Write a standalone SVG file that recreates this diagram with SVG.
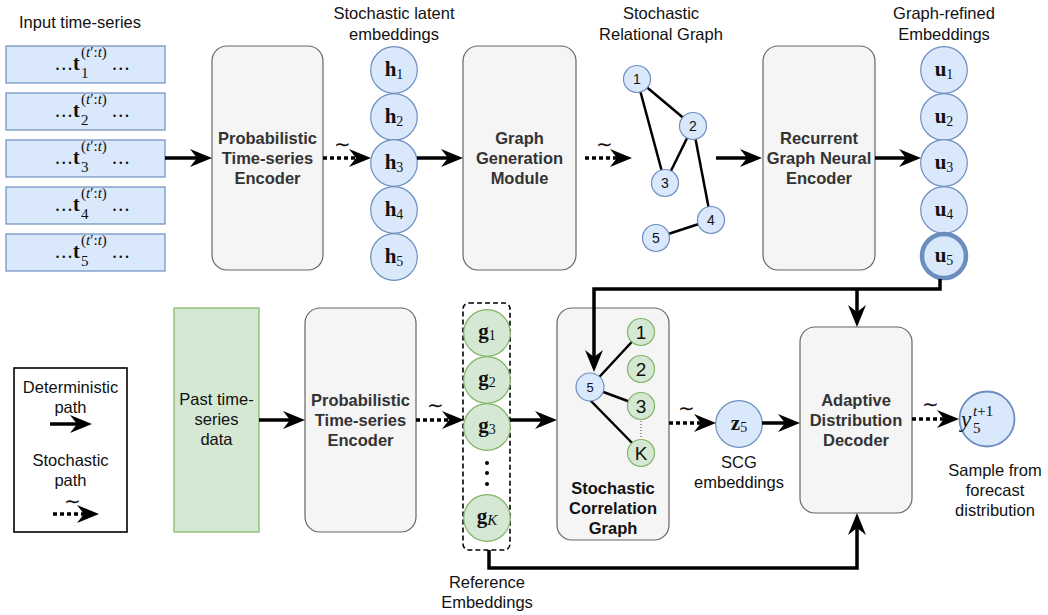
<svg xmlns="http://www.w3.org/2000/svg" width="1048" height="615" viewBox="0 0 1048 615">
  <style>
    .lbl { font-family: "Liberation Sans", Arial, sans-serif; font-size: 16.5px; fill: #111; text-anchor: middle; }
    .blk { font-family: "Liberation Sans", Arial, sans-serif; font-size: 16.5px; font-weight: bold; fill: #333; text-anchor: middle; }
    .num { font-family: "Liberation Sans", Arial, sans-serif; fill: #111; text-anchor: middle; }
    .math { font-family: "Liberation Serif", "Times New Roman", serif; fill: #111; }
    .mid { text-anchor: middle; }
    .blue { fill: #dae8fc; stroke: #6c8ebf; }
    .green { fill: #d5e8d4; stroke: #82b366; }
    .gray { fill: #f5f5f5; stroke: #666; }
    .wire { fill: none; stroke: #000; stroke-width: 3.5; }
    .solid { fill: none; stroke: #000; stroke-width: 3.5; marker-end: url(#head); }
    .dotted { fill: none; stroke: #000; stroke-width: 3.5; stroke-dasharray: 4 3; marker-end: url(#head); }
    .edge { stroke: #000; stroke-width: 2.5; }
    .tilde { font-family: "Liberation Serif", "Times New Roman", serif; font-size: 20px; fill: #111; text-anchor: middle; }
  </style>
  <defs>
    <!-- classic notched arrowhead; the line stops at the notch, the tip sits 15px further on -->
    <marker id="head" markerUnits="userSpaceOnUse" markerWidth="26" markerHeight="22" viewBox="-9 -11 26 22" refX="0" refY="0" orient="auto">
      <path d="M15,0 L-7,-9 L0,0 L-7,9 Z" fill="#000"/>
    </marker>
  </defs>

  <rect width="1048" height="615" fill="#fff"/>

  <!-- ============ top row ============ -->
  <g id="input-series">
    <text class="lbl" x="80" y="28">Input time-series</text>
    <g stroke-width="1.2">
      <rect class="blue" x="6" y="46" width="159" height="37"/>
      <rect class="blue" x="6" y="93" width="159" height="37"/>
      <rect class="blue" x="6" y="140" width="159" height="37"/>
      <rect class="blue" x="6" y="187" width="159" height="37"/>
      <rect class="blue" x="6" y="234" width="159" height="37"/>
    </g>
    <g class="math" font-size="20">
      <text x="55" y="70" letter-spacing="1.2">...</text><text x="73" y="70" font-weight="bold">t</text>
      <text x="81" y="57" font-size="15">(<tspan font-style="italic">t</tspan>′:<tspan font-style="italic">t</tspan>)</text>
      <text x="81" y="78" font-size="15">1</text><text x="112" y="70" letter-spacing="1.2">...</text>

      <text x="55" y="117" letter-spacing="1.2">...</text><text x="73" y="117" font-weight="bold">t</text>
      <text x="81" y="104" font-size="15">(<tspan font-style="italic">t</tspan>′:<tspan font-style="italic">t</tspan>)</text>
      <text x="81" y="125" font-size="15">2</text><text x="112" y="117" letter-spacing="1.2">...</text>

      <text x="55" y="164" letter-spacing="1.2">...</text><text x="73" y="164" font-weight="bold">t</text>
      <text x="81" y="151" font-size="15">(<tspan font-style="italic">t</tspan>′:<tspan font-style="italic">t</tspan>)</text>
      <text x="81" y="172" font-size="15">3</text><text x="112" y="164" letter-spacing="1.2">...</text>

      <text x="55" y="211" letter-spacing="1.2">...</text><text x="73" y="211" font-weight="bold">t</text>
      <text x="81" y="198" font-size="15">(<tspan font-style="italic">t</tspan>′:<tspan font-style="italic">t</tspan>)</text>
      <text x="81" y="219" font-size="15">4</text><text x="112" y="211" letter-spacing="1.2">...</text>

      <text x="55" y="258" letter-spacing="1.2">...</text><text x="73" y="258" font-weight="bold">t</text>
      <text x="81" y="245" font-size="15">(<tspan font-style="italic">t</tspan>′:<tspan font-style="italic">t</tspan>)</text>
      <text x="81" y="266" font-size="15">5</text><text x="112" y="258" letter-spacing="1.2">...</text>
    </g>
  </g>

  <g id="encoder-top">
    <rect class="gray" x="212" y="46" width="111" height="224" rx="15" stroke-width="1.2"/>
    <text class="blk" x="267.5" y="144">Probabilistic</text>
    <text class="blk" x="267.5" y="164">Time-series</text>
    <text class="blk" x="267.5" y="184">Encoder</text>
  </g>

  <g id="latent-h">
    <text class="lbl" x="394" y="19">Stochastic latent</text>
    <text class="lbl" x="394" y="40">embeddings</text>
    <g stroke-width="1.2">
      <circle class="blue" cx="394" cy="70" r="23.3"/>
      <circle class="blue" cx="394" cy="117" r="23.3"/>
      <circle class="blue" cx="394" cy="163" r="23.3"/>
      <circle class="blue" cx="394" cy="210" r="23.3"/>
      <circle class="blue" cx="394" cy="257" r="23.3"/>
    </g>
    <g class="math mid" font-size="21">
      <text x="394" y="76"><tspan font-weight="bold">h</tspan><tspan font-size="14" dy="3">1</tspan></text>
      <text x="394" y="123"><tspan font-weight="bold">h</tspan><tspan font-size="14" dy="3">2</tspan></text>
      <text x="394" y="169"><tspan font-weight="bold">h</tspan><tspan font-size="14" dy="3">3</tspan></text>
      <text x="394" y="216"><tspan font-weight="bold">h</tspan><tspan font-size="14" dy="3">4</tspan></text>
      <text x="394" y="263"><tspan font-weight="bold">h</tspan><tspan font-size="14" dy="3">5</tspan></text>
    </g>
  </g>

  <g id="graph-generation">
    <rect class="gray" x="463" y="46" width="113" height="224" rx="15" stroke-width="1.2"/>
    <text class="blk" x="519.5" y="144">Graph</text>
    <text class="blk" x="519.5" y="164">Generation</text>
    <text class="blk" x="519.5" y="184">Module</text>
  </g>

  <g id="relational-graph">
    <text class="lbl" x="661" y="19">Stochastic</text>
    <text class="lbl" x="661" y="40">Relational Graph</text>
    <line class="edge" x1="637" y1="79" x2="693" y2="126"/>
    <line class="edge" x1="637" y1="79" x2="665" y2="183"/>
    <line class="edge" x1="693" y1="126" x2="665" y2="183"/>
    <line class="edge" x1="693" y1="126" x2="711" y2="220"/>
    <line class="edge" x1="656" y1="238" x2="711" y2="220"/>
    <g stroke-width="1.2">
      <circle class="blue" cx="637" cy="79" r="13.5"/>
      <circle class="blue" cx="693" cy="126" r="13.5"/>
      <circle class="blue" cx="665" cy="183" r="13.5"/>
      <circle class="blue" cx="711" cy="220" r="13.5"/>
      <circle class="blue" cx="656" cy="238" r="13.5"/>
    </g>
    <g class="num" font-size="14">
      <text x="637" y="84">1</text>
      <text x="693" y="131">2</text>
      <text x="665" y="188">3</text>
      <text x="711" y="225">4</text>
      <text x="656" y="243">5</text>
    </g>
  </g>

  <g id="recurrent-gnn">
    <rect class="gray" x="763" y="46" width="112" height="224" rx="15" stroke-width="1.2"/>
    <text class="blk" x="819" y="144">Recurrent</text>
    <text class="blk" x="819" y="164">Graph Neural</text>
    <text class="blk" x="819" y="184">Encoder</text>
  </g>

  <g id="refined-u">
    <text class="lbl" x="944" y="19">Graph-refined</text>
    <text class="lbl" x="944" y="40">Embeddings</text>
    <g stroke-width="1.2">
      <circle class="blue" cx="944" cy="70" r="23.3"/>
      <circle class="blue" cx="944" cy="117" r="23.3"/>
      <circle class="blue" cx="944" cy="163" r="23.3"/>
      <circle class="blue" cx="944" cy="210" r="23.3"/>
    </g>
    <circle class="blue" cx="944" cy="256" r="22" stroke-width="4.5"/>
    <g class="math mid" font-size="21">
      <text x="944" y="76"><tspan font-weight="bold">u</tspan><tspan font-size="14" dy="3">1</tspan></text>
      <text x="944" y="123"><tspan font-weight="bold">u</tspan><tspan font-size="14" dy="3">2</tspan></text>
      <text x="944" y="169"><tspan font-weight="bold">u</tspan><tspan font-size="14" dy="3">3</tspan></text>
      <text x="944" y="216"><tspan font-weight="bold">u</tspan><tspan font-size="14" dy="3">4</tspan></text>
      <text x="944" y="262"><tspan font-weight="bold">u</tspan><tspan font-size="14" dy="3">5</tspan></text>
    </g>
  </g>

  <!-- ============ bottom row ============ -->
  <g id="legend">
    <rect x="14" y="368" width="113" height="164" fill="#fff" stroke="#000" stroke-width="1.6"/>
    <text class="lbl" x="70.5" y="393">Deterministic</text>
    <text class="lbl" x="70.5" y="413">path</text>
    <line class="solid" x1="50" y1="424" x2="77" y2="424"/>
    <text class="lbl" x="70.5" y="466">Stochastic</text>
    <text class="lbl" x="70.5" y="486">path</text>
    <text class="tilde" x="72" y="508">∼</text>
    <line class="dotted" x1="53" y1="514" x2="84" y2="514"/>
  </g>

  <g id="past-data">
    <rect class="green" x="174" y="308" width="85" height="224" stroke-width="1.2"/>
    <text class="lbl" x="216.5" y="405">Past time-</text>
    <text class="lbl" x="216.5" y="425">series</text>
    <text class="lbl" x="216.5" y="445">data</text>
  </g>

  <g id="encoder-bottom">
    <rect class="gray" x="305" y="308" width="111" height="224" rx="15" stroke-width="1.2"/>
    <text class="blk" x="360.5" y="406">Probabilistic</text>
    <text class="blk" x="360.5" y="426">Time-series</text>
    <text class="blk" x="360.5" y="446">Encoder</text>
  </g>

  <g id="reference-g">
    <rect x="463" y="303" width="47" height="247" rx="6" fill="none" stroke="#000" stroke-width="1.6" stroke-dasharray="5 3"/>
    <g stroke-width="1.2">
      <circle class="green" cx="487" cy="333" r="23.3"/>
      <circle class="green" cx="487" cy="380" r="23.3"/>
      <circle class="green" cx="487" cy="427" r="23.3"/>
      <circle class="green" cx="487" cy="518" r="23.3"/>
    </g>
    <circle cx="487" cy="463" r="2" fill="#000"/>
    <circle cx="487" cy="473" r="2" fill="#000"/>
    <circle cx="487" cy="484" r="2" fill="#000"/>
    <g class="math mid" font-size="21">
      <text x="487" y="338"><tspan font-weight="bold">g</tspan><tspan font-size="14" dy="2">1</tspan></text>
      <text x="487" y="385"><tspan font-weight="bold">g</tspan><tspan font-size="14" dy="2">2</tspan></text>
      <text x="487" y="432"><tspan font-weight="bold">g</tspan><tspan font-size="14" dy="2">3</tspan></text>
      <text x="487" y="523"><tspan font-weight="bold">g</tspan><tspan font-size="15" font-style="italic" dy="2">K</tspan></text>
    </g>
    <text class="lbl" x="487" y="588">Reference</text>
    <text class="lbl" x="487" y="608">Embeddings</text>
  </g>

  <g id="correlation-graph">
    <rect class="gray" x="557" y="308" width="112" height="232" rx="15" stroke-width="1.2"/>
    <line class="edge" x1="590" y1="387" x2="641" y2="332"/>
    <line class="edge" x1="590" y1="387" x2="641" y2="406"/>
    <line class="edge" x1="590" y1="400" x2="637" y2="448"/>
    <line x1="641" y1="421" x2="641" y2="439" stroke="#444" stroke-width="1" stroke-dasharray="1 2"/>
    <g stroke-width="1.2">
      <circle class="blue" cx="590" cy="387" r="14"/>
      <circle class="green" cx="641" cy="332" r="13.5"/>
      <circle class="green" cx="641" cy="369" r="13.5"/>
      <circle class="green" cx="641" cy="406" r="13.5"/>
      <circle class="green" cx="641" cy="453" r="13.5"/>
    </g>
    <text class="num" x="590" y="392" font-size="13">5</text>
    <g class="num" font-size="19">
      <text x="641" y="339">1</text>
      <text x="641" y="376">2</text>
      <text x="641" y="413">3</text>
      <text x="641" y="460">K</text>
    </g>
    <g class="blk" style="fill:#111">
      <text x="613" y="494">Stochastic</text>
      <text x="613" y="514">Correlation</text>
      <text x="613" y="534">Graph</text>
    </g>
  </g>

  <g id="scg-z">
    <circle class="blue" cx="739" cy="424" r="23.3" stroke-width="1.2"/>
    <text class="math mid" x="739" y="430" font-size="21"><tspan font-weight="bold">z</tspan><tspan font-size="14" dy="2">5</tspan></text>
    <text class="lbl" x="739" y="468">SCG</text>
    <text class="lbl" x="739" y="488">embeddings</text>
  </g>

  <g id="decoder">
    <rect class="gray" x="800" y="327" width="112" height="186" rx="15" stroke-width="1.2"/>
    <text class="blk" x="856" y="406">Adaptive</text>
    <text class="blk" x="856" y="426">Distribution</text>
    <text class="blk" x="856" y="446">Decoder</text>
  </g>

  <g id="forecast-y">
    <circle class="blue" cx="987" cy="419" r="27.5" stroke-width="1.8"/>
    <text class="math" x="961" y="427" font-size="23" font-style="italic">y</text>
    <text class="math" x="973" y="416" font-size="15"><tspan font-style="italic">t</tspan>+1</text>
    <text class="math" x="973" y="433" font-size="15">5</text>
    <text class="lbl" x="995" y="476">Sample from</text>
    <text class="lbl" x="995" y="496">forecast</text>
    <text class="lbl" x="995" y="516">distribution</text>
  </g>

  <!-- ============ connectors ============ -->
  <g id="connectors">
    <line class="solid" x1="165" y1="158" x2="197" y2="158"/>
    <line class="dotted" x1="323" y1="158" x2="356" y2="158"/>
    <text class="tilde" x="342" y="151">∼</text>
    <line class="solid" x1="417" y1="158" x2="448" y2="158"/>
    <line class="dotted" x1="585" y1="158" x2="617" y2="158"/>
    <text class="tilde" x="604" y="151">∼</text>
    <line class="solid" x1="716" y1="158" x2="747" y2="158"/>
    <line class="solid" x1="875" y1="158" x2="906" y2="158"/>

    <!-- u5 feeds both the correlation graph and the decoder -->
    <path class="wire" d="M940,279 V289 H594 V357" marker-end="url(#head)"/>
    <line class="solid" x1="857" y1="289" x2="857" y2="312"/>

    <line class="solid" x1="259" y1="420" x2="290" y2="420"/>
    <line class="dotted" x1="416" y1="420" x2="449" y2="420"/>
    <text class="tilde" x="435" y="412">∼</text>
    <line class="solid" x1="510" y1="420" x2="542" y2="420"/>
    <line class="dotted" x1="669" y1="423" x2="701" y2="423"/>
    <text class="tilde" x="686" y="415">∼</text>
    <line class="solid" x1="762" y1="423" x2="785" y2="423"/>
    <line class="dotted" x1="912" y1="419" x2="944" y2="419"/>
    <text class="tilde" x="930" y="411">∼</text>

    <!-- reference embeddings back to the decoder -->
    <path class="wire" d="M489,550 V568 H857 V528" marker-end="url(#head)"/>
  </g>
</svg>
